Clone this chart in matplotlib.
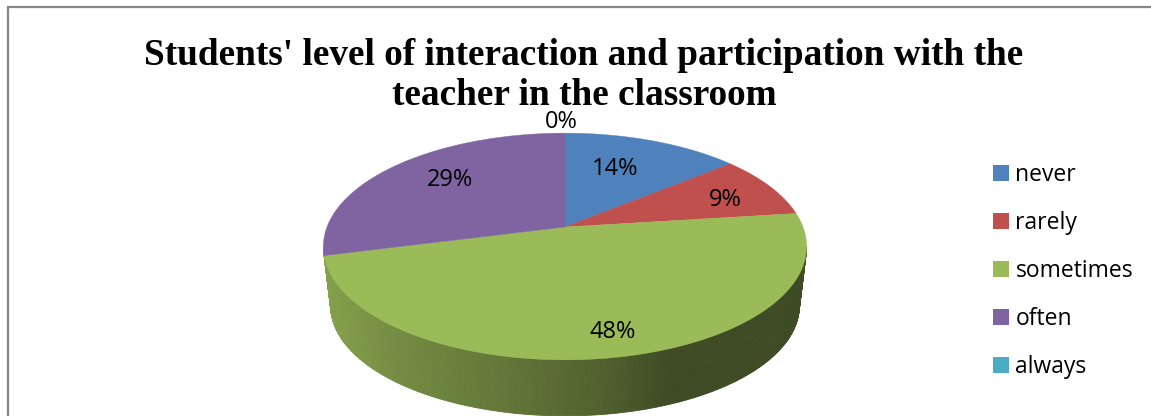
import numpy as np
import matplotlib
matplotlib.use("Agg")
import matplotlib.pyplot as plt
from matplotlib.patches import Polygon, Patch

# ---- data ----
categories = ["never", "rarely", "sometimes", "often", "always"]
percentages = [14, 9, 48, 29, 0]
colors = ["#4F81BD", "#C0504D", "#9BBB59", "#8064A2", "#4BACC6"]
title_text = "Students' level of interaction and participation with the\nteacher in the classroom"

# ---- layout (pixel space) ----
W, H = 1151, 416
CX, APEX_Y = 565, 227
A, B, K = 110.0, 238.0, 0.172
DEPTH, LOWER_SCALE = 60, 0.97
label_xy = [(615, 169), (725, 200), (613, 332), (450, 180), (561, 122)]
BODY = ["Open Sans", "DejaVu Sans"]
shade_x = [325, 400, 500, 600, 670, 800]
shade_f = [0.86, 0.74, 0.64, 0.52, 0.40, 0.40]


def project(theta, scale=1.0, dy=0.0):
    """Clockwise angle from the top of a perspective-tilted disc, to pixels."""
    X, Y = np.sin(theta), np.cos(theta)
    f = 1 + K * Y
    return CX + scale * B * X / f, APEX_Y + dy - scale * A * Y / f


fig = plt.figure(figsize=(W / 100, H / 100), dpi=100, facecolor="white")
ax = fig.add_axes([0, 0, 1, 1])
ax.set_xlim(0, W)
ax.set_ylim(H, 0)
ax.axis("off")

edges = np.radians(np.cumsum([0] + percentages) * 3.6)

# side wall, drawn as thin shaded strips along the front of the disc
front_base = np.array(matplotlib.colors.to_rgb(colors[int(np.argmax(percentages))]))
th_right, th_left = np.arccos(-K), 2 * np.pi - np.arccos(-K)
strip_edges = np.linspace(th_right, th_left, 241)
for t0, t1 in zip(strip_edges[:-1], strip_edges[1:]):
    tt = np.array([t0, t1])
    x0, y0 = project(tt)
    x1, y1 = project(tt[::-1], LOWER_SCALE, DEPTH)
    xm = (x0.mean() + x1.mean()) / 2
    c = front_base * np.interp(xm, shade_x, shade_f)
    ax.add_patch(Polygon(np.column_stack([np.r_[x0, x1], np.r_[y0, y1]]),
                         closed=True, fc=c, ec=c, lw=0.6, zorder=2))

# top face
for i, c in enumerate(colors):
    if percentages[i] == 0:
        continue
    tt = np.linspace(edges[i], edges[i + 1], 200)
    x, y = project(tt)
    ax.add_patch(Polygon(np.column_stack([np.r_[CX, x], np.r_[APEX_Y, y]]),
                         closed=True, fc=c, ec=c, lw=0.3, zorder=3))

for p, (lx, ly) in zip(percentages, label_xy):
    ax.text(lx, ly, f"{p}%", ha="center", va="center", fontsize=17,
            family=BODY, color="black", zorder=5)

ax.text(584, 75.5, title_text, ha="center", va="center", fontsize=26.85,
        family="Liberation Serif", weight="bold", color="black",
        linespacing=1.16, zorder=4)

handles = [Patch(fc=c, ec="none", label=n) for c, n in zip(colors, categories)]
ax.legend(handles=handles, loc="upper left", bbox_to_anchor=(993 / W, 1 - 163 / H),
          frameon=False, prop={"family": BODY, "size": 16.5},
          handlelength=0.68, handleheight=0.68, handletextpad=0.3,
          labelspacing=1.05, borderpad=0, borderaxespad=0)

ax.plot([8, 8, W], [H, 7, 7], color="#868686", lw=1.6, solid_joinstyle="miter",
        zorder=6)

fig.savefig("out.png", dpi=100)
